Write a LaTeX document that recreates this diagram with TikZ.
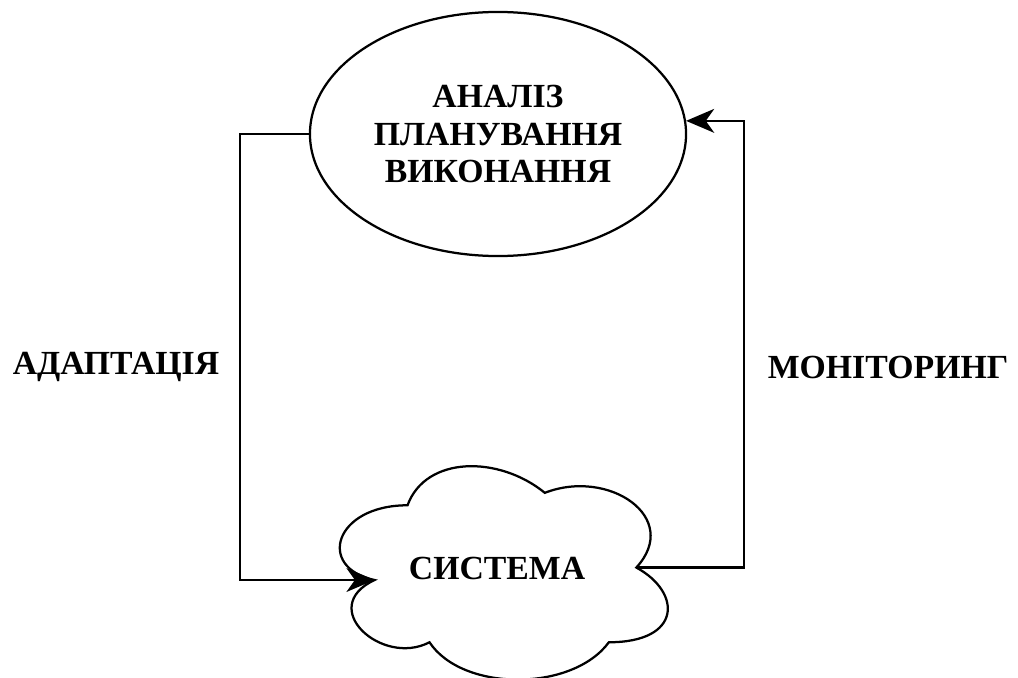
\documentclass[tikz,border=0pt]{standalone}
\usepackage{fontspec}
\setmainfont{Liberation Serif}
\usetikzlibrary{arrows.meta,shapes.geometric}

\tikzset{
  lbl/.style={font=\fontsize{24}{26.5}\selectfont\bfseries},
  link/.style={line width=1.6pt, -{Stealth[length=20pt,width=17pt,inset=6pt]}},
}

\begin{document}
\begin{tikzpicture}[x=0.025cm,y=-0.025cm]
    \useasboundingbox (0,0) rectangle (1018,677);
    % Еліпс: аналіз, планування, виконання
    \node[ellipse, draw, line width=1.6pt, minimum width=9.4cm, minimum height=6.1cm,
          inner sep=0pt, lbl, align=center] (anal) at (498,134)
          {АНАЛІЗ\\ПЛАНУВАННЯ\\ВИКОНАННЯ};
    % Хмара: система
    \begin{scope}[shift={(316,443)}, x=9.15cm, y=-6.225cm]
      \draw[line width=1.6pt] (0.25,0.25) .. controls (0.05,0.25) and (0,0.5) .. (0.16,0.55)
        .. controls (0,0.66) and (0.18,0.9) .. (0.31,0.8)
        .. controls (0.4,1) and (0.7,1) .. (0.8,0.8)
        .. controls (1,0.8) and (1,0.6) .. (0.875,0.5)
        .. controls (1,0.3) and (0.8,0.1) .. (0.625,0.2)
        .. controls (0.5,0.05) and (0.3,0.05) .. (0.25,0.25) -- cycle;
      \coordinate (sysL) at (0.16,0.55);
      \coordinate (sysR) at (0.875,0.5);
    \end{scope}
    \node[lbl] (sys) at (497,568) {СИСТЕМА};
    % Підписи
    \node[lbl] (adapt) at (116,367) {АДАПТАЦІЯ};
    \node[lbl] (monit) at (888,367) {МОНІТОРИНГ};
    % Зв'язки
    \draw[link] (anal.west) -- ++(-69,0) |- (sysL);
    \draw[link] (sysR) -- ++(108,0) |- (anal.4);
\end{tikzpicture}
\end{document}
